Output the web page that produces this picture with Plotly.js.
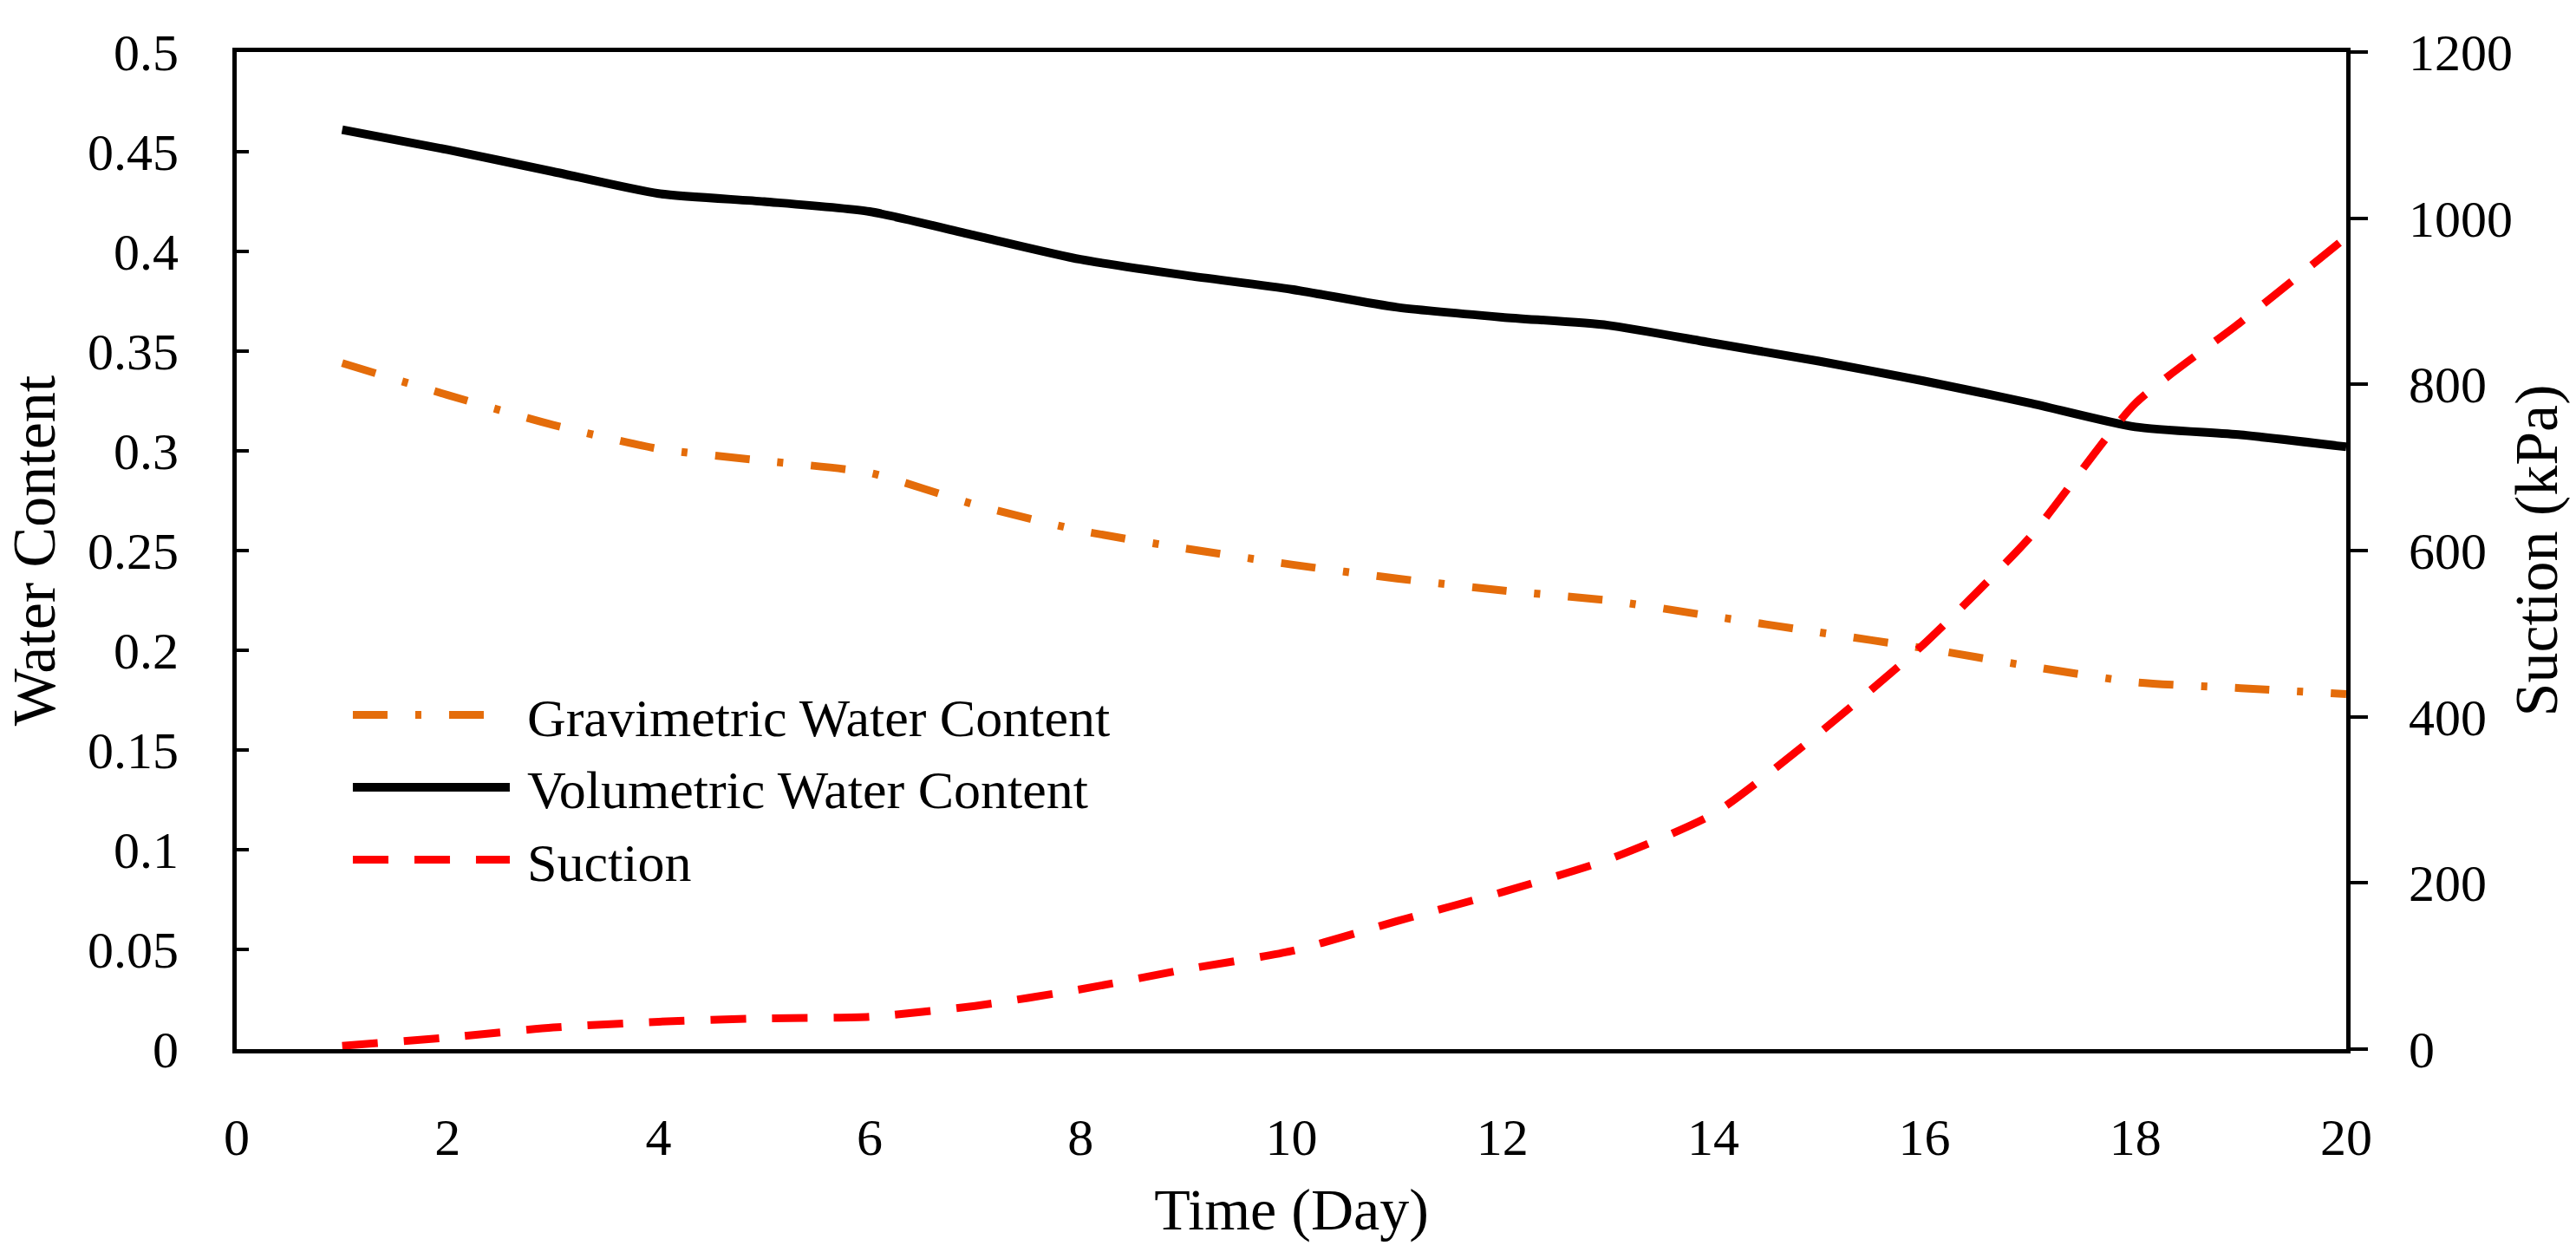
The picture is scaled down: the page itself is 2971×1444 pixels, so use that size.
<!DOCTYPE html>
<html>
<head>
<meta charset="utf-8">
<script src="https://cdn.plot.ly/plotly-3.0.1.min.js"></script>
<style>
  html, body { margin: 0; padding: 0; background: #fff; }
  #chart { width: 2971px; height: 1444px; }
</style>
</head>
<body>
<div id="chart"></div>
<script>
// values
var days = [1, 2, 3, 4, 5, 6, 7, 8, 9, 10, 11, 12, 13, 14, 15, 16, 17, 18, 19, 20];
var gravimetric = [0.344, 0.328, 0.313, 0.301, 0.295, 0.289, 0.273, 0.260, 0.251, 0.243,
                   0.236, 0.230, 0.225, 0.217, 0.209, 0.201, 0.192, 0.184, 0.181, 0.178];
var volumetric = [0.461, 0.451, 0.440, 0.429, 0.425, 0.420, 0.408, 0.396, 0.388, 0.381,
                  0.372, 0.367, 0.363, 0.354, 0.345, 0.335, 0.324, 0.312, 0.308, 0.302];
var suction = [4, 14, 26, 33, 37, 39, 52, 72, 96, 118,
               154, 189, 228, 283, 380, 488, 616, 777, 875, 977];

var xTicks = [0, 2, 4, 6, 8, 10, 12, 14, 16, 18, 20];
var leftTicks = [0, 0.05, 0.1, 0.15, 0.2, 0.25, 0.3, 0.35, 0.4, 0.45, 0.5];
var leftTickText = ['0', '0.05', '0.1', '0.15', '0.2', '0.25', '0.3', '0.35', '0.4', '0.45', '0.5'];
var rightTicks = [0, 200, 400, 600, 800, 1000, 1200];

var FONT = 'Liberation Serif, Times New Roman, serif';

function make_trace(name, y, color, width, dash, axis) {
    return {
        x: days,
        y: y,
        name: name,
        yaxis: axis,
        mode: 'lines',
        type: 'scatter',
        line: { color: color, width: width, dash: dash, shape: 'spline', smoothing: 0.6 }
    };
}

var data = [
    make_trace('Gravimetric Water Content', gravimetric, '#E46C0A', 9, '40px,32px,7px,32px', 'y'),
    make_trace('Volumetric Water Content', volumetric, '#000000', 10, 'solid', 'y'),
    make_trace('Suction', suction, '#FF0000', 9, '41px,30px', 'y2')
];

var layout = {
    width: 2971,
    height: 1444,
    margin: { l: 273, r: 265, t: 60, b: 234 },
    paper_bgcolor: '#fff',
    plot_bgcolor: '#fff',
    font: { family: FONT, size: 60, color: '#000' },
    showlegend: true,
    legend: {
        x: 0.053, y: 0.376, xanchor: 'left', yanchor: 'top',
        bgcolor: 'rgba(0,0,0,0)',
        font: { family: FONT, size: 62, color: '#000' },
        itemwidth: 196,
        tracegroupgap: 0
    },
    xaxis: {
        range: [0, 20],
        tickvals: xTicks,
        ticks: '',
        showgrid: false,
        zeroline: false,
        showline: true, linecolor: '#000', linewidth: 5,
        mirror: true,
        ticklabelstandoff: 45,
        title: { text: 'Time (Day)', font: { family: FONT, size: 68 }, standoff: 28 }
    },
    yaxis: {
        range: [0, 0.5],
        tickvals: leftTicks,
        ticktext: leftTickText,
        ticks: 'inside', ticklen: 14, tickwidth: 4, tickcolor: '#000',
        showgrid: false,
        zeroline: false,
        showline: true, linecolor: '#000', linewidth: 5,
        ticklabelstandoff: 50,
        title: { text: 'Water Content', font: { family: FONT, size: 70 }, standoff: 16 }
    },
    yaxis2: {
        range: [0, 1200],
        tickvals: rightTicks,
        overlaying: 'y',
        side: 'right',
        ticks: 'outside', ticklen: 20, tickwidth: 4, tickcolor: '#000',
        showgrid: false,
        zeroline: false,
        showline: true, linecolor: '#000', linewidth: 5,
        ticklabelstandoff: 35,
        title: { text: 'Suction (kPa)', font: { family: FONT, size: 70 }, standoff: 4 }
    }
};

Plotly.newPlot('chart', data, layout, { staticPlot: true }).then(function (gd) {
    // stretch the legend sample lines to the long swatches of the original
    gd.querySelectorAll('.legend .legendlines path').forEach(function (p) {
        p.setAttribute('d', 'M5,0h181');
    });
});
</script>
</body>
</html>
